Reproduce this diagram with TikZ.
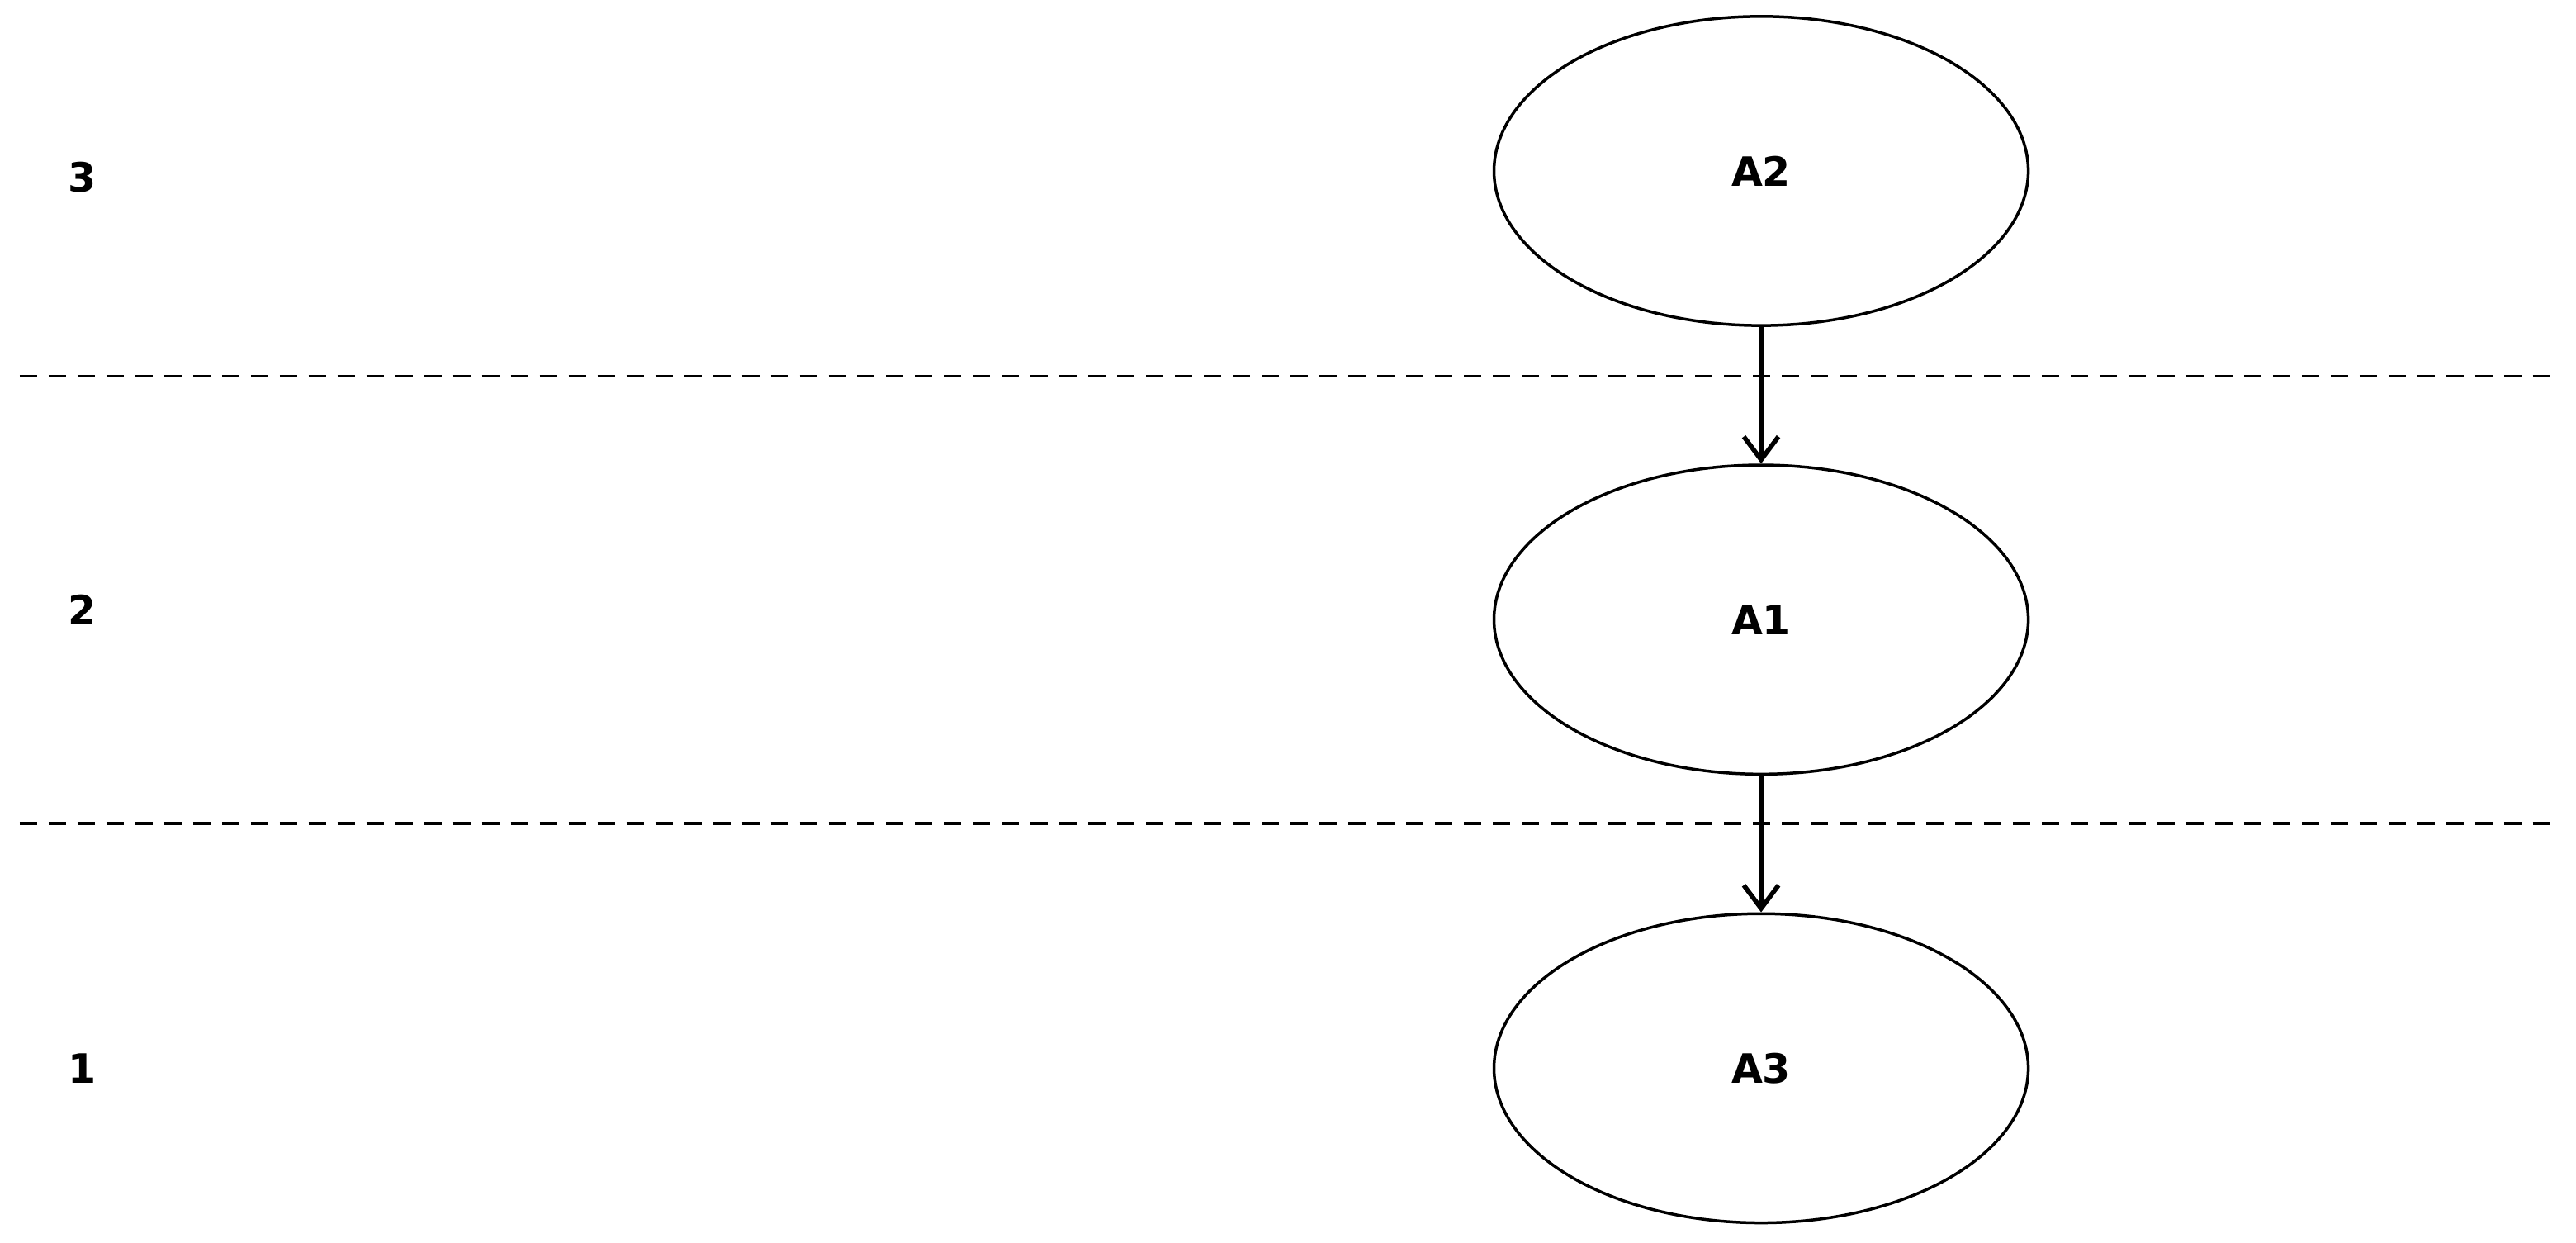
\documentclass[tikz,border=0pt]{standalone}
\usepackage{fontspec}
\setmainfont{DejaVu Sans}
\usetikzlibrary{shapes.geometric,arrows.meta}
\begin{document}
\begin{tikzpicture}[x=0.01cm,y=-0.01cm,
  ell/.style={ellipse,draw,line width=0.5pt,minimum width=3.25cm,minimum height=1.88cm,inner sep=0pt,font=\bfseries\fontsize{7}{8}\selectfont},
  lvl/.style={font=\bfseries\fontsize{7}{8}\selectfont},
  sep/.style={line width=0.5pt,dash pattern=on 3pt off 2pt},
  conn/.style={-{Straight Barb[length=4pt,width=6pt]},line width=0.8pt}]
\useasboundingbox (0,0) rectangle (1568,756);
\node[ell] (a2) at (1072,104) {A2};
\node[ell] (a1) at (1072,377) {A1};
\node[ell] (a3) at (1072,650) {A3};
\node[lvl] (l3) at (50,108) {3};
\node[lvl] (l2) at (50,371) {2};
\node[lvl] (l1) at (50,650) {1};
\coordinate (d1a) at (12,229); \coordinate (d1b) at (1556,229);
\coordinate (d2a) at (12,501); \coordinate (d2b) at (1556,501);
\draw[sep] (d1a) -- (d1b);
\draw[sep] (d2a) -- (d2b);
\draw[conn] (a2) -- (a1);
\draw[conn] (a1) -- (a3);
\end{tikzpicture}
\end{document}
